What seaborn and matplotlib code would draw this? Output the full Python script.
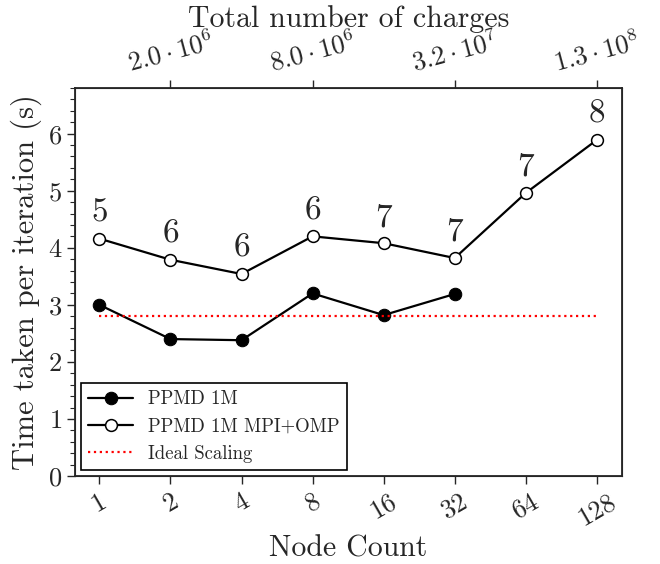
import matplotlib
matplotlib.use("Agg")
import matplotlib.pyplot as plt
import seaborn as sns

# data
nodes = [1, 2, 4, 8, 16, 32, 64, 128]
ppmd_nodes = [1, 2, 4, 8, 16, 32]
ppmd_time = [3.00, 2.40, 2.38, 3.20, 2.82, 3.19]
hybrid_time = [4.16, 3.79, 3.54, 4.20, 4.08, 3.82, 4.96, 5.89]
hybrid_threads = ["5", "6", "6", "6", "7", "7", "7", "8"]
ideal_time = 2.81
node_labels = ["1", "2", "4", "8", "16", "32", "64", "128"]
charge_nodes = [2, 8, 32, 128]
charge_labels = [r"$2.0\cdot10^{6}$", r"$8.0\cdot10^{6}$",
                 r"$3.2\cdot10^{7}$", r"$1.3\cdot10^{8}$"]

sns.set_style("ticks")
plt.rcParams["font.family"] = "serif"
plt.rcParams["font.serif"] = ["cmr10", "DejaVu Serif"]
plt.rcParams["mathtext.fontset"] = "cm"
plt.rcParams["axes.formatter.use_mathtext"] = True
plt.rcParams["axes.unicode_minus"] = False

fig = plt.figure(figsize=(6.6, 5.64), dpi=100)
ax = fig.add_axes([0.114, 0.156, 0.828, 0.688])

sns.lineplot(x=ppmd_nodes, y=ppmd_time, ax=ax, color="k", lw=1.6,
             marker="o", markersize=9, mfc="k", mec="k", label="PPMD 1M")
sns.lineplot(x=nodes, y=hybrid_time, ax=ax, color="k", lw=1.6,
             marker="o", markersize=8.5, mfc="white", mec="k", mew=1.1,
             label="PPMD 1M MPI+OMP")
sns.lineplot(x=[nodes[0], nodes[-1]], y=[ideal_time, ideal_time], ax=ax,
             color="red", lw=1.6, linestyle=":", label="Ideal Scaling")

for n, t, lab in zip(nodes, hybrid_time, hybrid_threads):
    ax.annotate(lab, (n, t), xytext=(0, 8), textcoords="offset points",
                ha="center", va="bottom", fontsize=24)

ax.set_xscale("log", base=2)
ax.set_xlim(2 ** -0.34, 128 * 2 ** 0.35)
ax.set_ylim(0, 6.8)
ax.set_xticks(nodes)
ax.set_xticklabels(node_labels, rotation=30, fontsize=19)
ax.xaxis.set_minor_locator(matplotlib.ticker.NullLocator())
ax.yaxis.set_minor_locator(matplotlib.ticker.MultipleLocator(0.2))
ax.tick_params(axis="y", labelsize=19)
ax.tick_params(which="major", length=6, width=1)
ax.tick_params(which="minor", length=3.5, width=0.8)
ax.set_xlabel("Node Count", fontsize=21.5)
ax.set_ylabel("Time taken per iteration (s)", fontsize=22)
for s in ax.spines.values():
    s.set_linewidth(1.3)

top = ax.twiny()
top.set_xscale("log", base=2)
top.set_xlim(ax.get_xlim())
top.set_xticks(charge_nodes)
top.set_xticklabels(charge_labels, rotation=15, fontsize=19)
top.xaxis.set_minor_locator(matplotlib.ticker.NullLocator())
top.tick_params(which="major", length=6, width=1, pad=2)
top.set_xlabel("Total number of charges", fontsize=21.5, labelpad=1)

leg = ax.legend(loc="lower left", fontsize=13.5, fancybox=False, framealpha=1,
                edgecolor="k", borderaxespad=0.3, handlelength=2.4)
leg.get_frame().set_linewidth(1.2)

fig.savefig("out.png", dpi=100)
